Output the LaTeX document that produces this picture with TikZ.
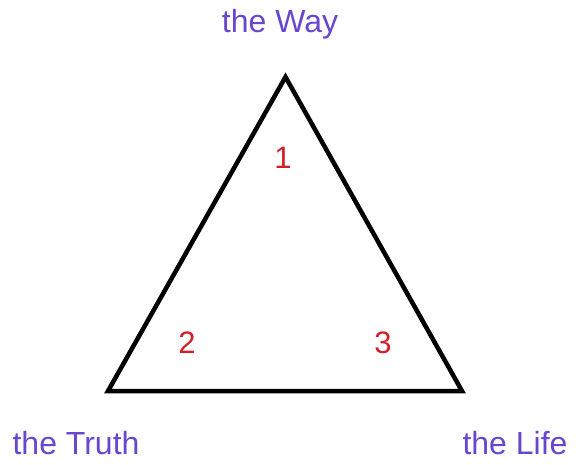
\documentclass[tikz,border=0pt]{standalone}
\usepackage{fontspec}
\setmainfont{Liberation Sans}
\usepackage{tikz}
\usetikzlibrary{positioning}
\definecolor{namecol}{RGB}{104,70,205}
\definecolor{numcol}{RGB}{210,30,40}

\begin{document}
\begin{tikzpicture}[x=1pt, y=-1pt,
                    namelabel/.style={text=namecol, font=\fontsize{32}{36}\selectfont, anchor=base, inner sep=0pt},
                    numlabel/.style={text=numcol, font=\fontsize{31}{34}\selectfont, inner sep=0pt}]
    \useasboundingbox (0,0) rectangle (580,465);

    % Corners
    \coordinate (top) at (285.5, 77);
    \coordinate (left) at (108, 391);
    \coordinate (right) at (462, 391);

    \draw[line width=4.5pt, line join=miter] (top) -- (right) -- (left) -- cycle;

    % Names
    \node[namelabel] (way) at (280, 33) {the Way};
    \node[namelabel] (truth) at (76, 454) {the Truth};
    \node[namelabel] (life) at (515, 454) {the Life};

    % Numbers
    \node[numlabel] (n1) at (283, 158) {1};
    \node[numlabel] (n2) at (187, 343) {2};
    \node[numlabel] (n3) at (383, 343) {3};
\end{tikzpicture}
\end{document}
